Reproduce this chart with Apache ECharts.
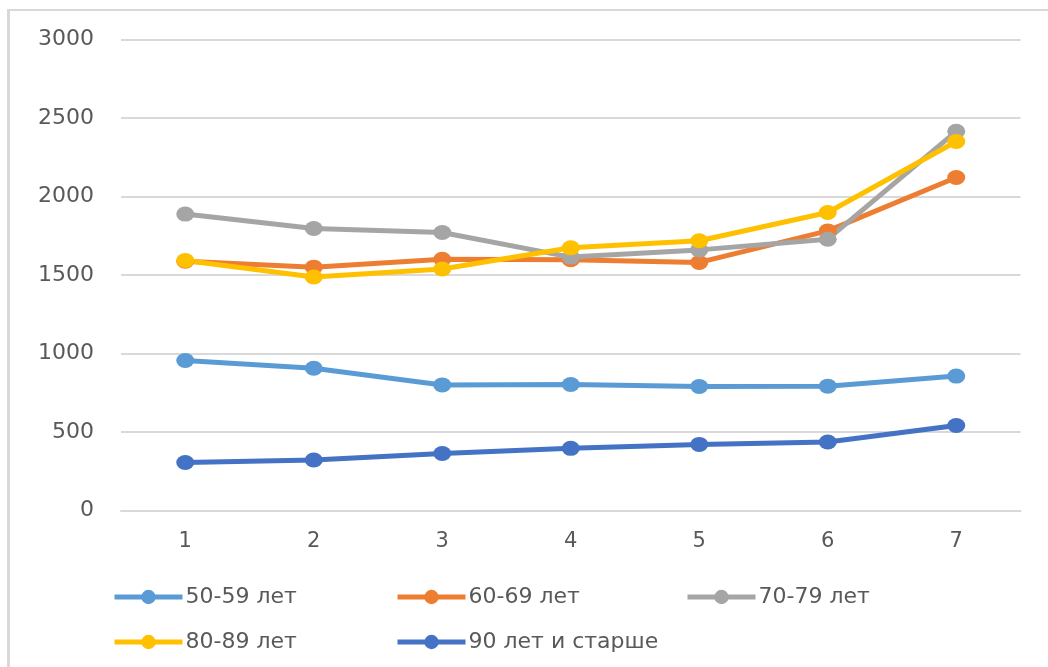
<!DOCTYPE html>
<html>
<head>
<meta charset="utf-8">
<script src="https://cdn.jsdelivr.net/npm/echarts@6/dist/echarts.min.js"></script>
<style>
  html, body { margin: 0; padding: 0; background: #fff; overflow: hidden; width: 1048px; height: 667px; }
  .frame-top { position: absolute; left: 7px; top: 9px; width: 1041px; height: 2px; background: #d9d9d9; }
  .frame-left { position: absolute; left: 7px; top: 9px; width: 3px; height: 658px; background: #d9d9d9; }
  #chart { position: absolute; left: 0; top: 0; width: 1048px; height: 667px; }
</style>
</head>
<body>
<div class="frame-top"></div>
<div class="frame-left"></div>
<div id="chart"></div>
<script>
// категории по оси X
var categories = ['1', '2', '3', '4', '5', '6', '7']
var seriesNames = ['50-59 лет', '60-69 лет', '70-79 лет', '80-89 лет', '90 лет и старше']

// значения по возрастным группам
var age50 = [955, 906, 800, 803, 790, 792, 856]
var age60 = [1588, 1550, 1600, 1597, 1580, 1781, 2121]
var age70 = [1888, 1796, 1771, 1614, 1660, 1728, 2415]
var age80 = [1592, 1487, 1538, 1673, 1718, 1898, 2350]
var age90 = [306, 322, 363, 396, 421, 436, 541]

var yTicks = { min: 0, max: 3000, interval: 500 }

var colors = ['#5B9BD5', '#ED7D31', '#A5A5A5', '#FFC000', '#4472C4']
var allData = [age50, age60, age70, age80, age90]

var fontName = 'DejaVu Sans'
var textColor = '#595959'

function makeLegend(name, left, top) {
  return {
    data: [name],
    left: left,
    top: top,
    itemWidth: 68,
    itemHeight: 18,
    itemGap: 0,
    padding: 0,
    lineStyle: { width: 5 },
    textStyle: {
      fontFamily: fontName,
      fontSize: 22,
      color: textColor,
      padding: [0, 0, 0, -2]
    }
  }
}

var option = {
  color: colors,
  animation: false,
  legend: [
    makeLegend(seriesNames[0], 112, 586),
    makeLegend(seriesNames[1], 395, 586),
    makeLegend(seriesNames[2], 685, 586),
    makeLegend(seriesNames[3], 112, 631),
    makeLegend(seriesNames[4], 395, 631)
  ],
  grid: {
    left: 121,
    right: 27.5,
    top: 39.5,
    bottom: 156.5
  },
  xAxis: {
    type: 'category',
    data: categories,
    boundaryGap: true,
    axisLine: { lineStyle: { color: '#d9d9d9', width: 2 } },
    axisTick: { show: false },
    axisLabel: {
      fontFamily: fontName,
      fontSize: 21,
      color: textColor,
      margin: 21
    }
  },
  yAxis: {
    type: 'value',
    min: yTicks.min,
    max: yTicks.max,
    interval: yTicks.interval,
    axisLine: { show: false },
    axisTick: { show: false },
    axisLabel: {
      fontFamily: fontName,
      fontSize: 22,
      color: textColor,
      margin: 27,
      formatter: function(v) { return String(v) }
    },
    splitLine: {
      show: true,
      lineStyle: { color: '#d9d9d9', width: 2 }
    }
  },
  series: seriesNames.map(function(name, i) {
    return {
      type: 'line',
      name: name,
      data: allData[i],
      symbol: 'circle',
      symbolSize: [18, 15],
      lineStyle: { width: 5, color: colors[i] },
      itemStyle: { color: colors[i] }
    }
  })
}

var myChart = echarts.init(document.getElementById('chart'))
myChart.setOption(option)
</script>
</body>
</html>
